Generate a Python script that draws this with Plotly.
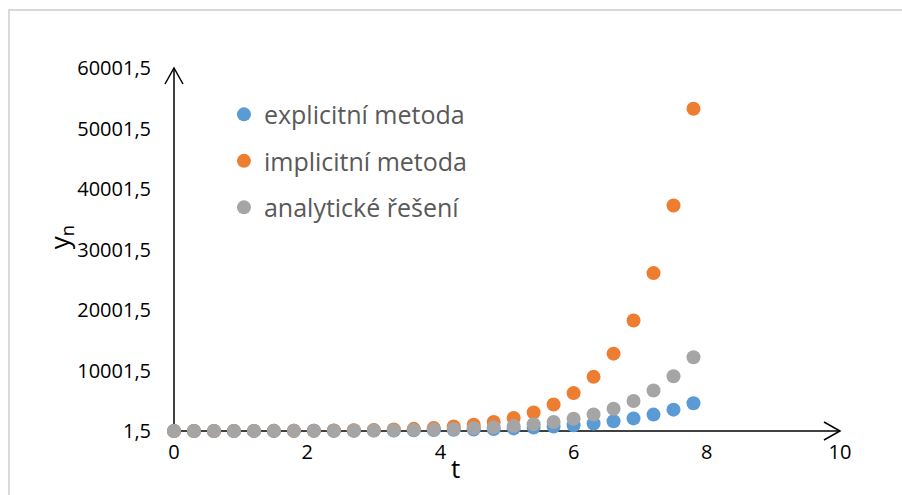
import plotly.graph_objects as go

# ---- data ----
t = [0, 0.3, 0.6, 0.9, 1.2, 1.5, 1.8, 2.1, 2.4, 2.7, 3.0, 3.3, 3.6, 3.9, 4.2,
     4.5, 4.8, 5.1, 5.4, 5.7, 6.0, 6.3, 6.6, 6.9, 7.2, 7.5, 7.8]
explicit = [5, 6.5, 8.45, 11.0, 14.3, 18.6, 24.1, 31.4, 40.8, 53.0, 68.9, 89.6,
            116.5, 151.4, 196.9, 255.9, 332.7, 432.5, 562.3, 731, 950, 1235,
            1606, 2088, 2714, 3528, 4587]
implicit = [5, 7.14, 10.2, 14.6, 20.8, 29.7, 42.5, 60.7, 86.7, 124, 177, 253,
            361, 516, 737, 1053, 1504, 2149, 3070, 4386, 6266, 8951, 12788,
            18268, 26097, 37281, 53259]
analytic = [5, 6.75, 9.11, 12.3, 16.6, 22.4, 30.2, 40.8, 55.1, 74.4, 100.4,
            135.6, 183, 247, 333, 450, 608, 820, 1107, 1494, 2017, 2723, 3675,
            4961, 6697, 9040, 12203]
series_names = ["explicitní metoda", "implicitní metoda", "analytické řešení"]
x_ticks = [0, 2, 4, 6, 8, 10]
y_ticks = [1.5, 10001.5, 20001.5, 30001.5, 40001.5, 50001.5, 60001.5]
y_tick_labels = ["1,5", "10001,5", "20001,5", "30001,5", "40001,5", "50001,5", "60001,5"]

colors = ["#5B9BD5", "#ED7D31", "#A5A5A5"]
FONT = "Open Sans"

fig = go.Figure()
for i, (name, ys) in enumerate(zip(series_names, [explicit, implicit, analytic])):
    fig.add_trace(go.Scatter(
        x=t, y=ys, mode="markers", name=name, legendgroup=name,
        marker=dict(color=colors[i], size=14, line=dict(width=0)),
        cliponaxis=False,
    ))

x_min, x_max = 0, 10
y_min, y_max = y_ticks[0], y_ticks[-1]

AX = dict(color="black", width=1.5)
shapes = [
    # axis lines (paper coords so they are not clipped at the plot edge)
    dict(type="line", xref="paper", yref="paper", x0=0, y0=0, x1=1, y1=0,
         line=AX, layer="below"),
    dict(type="line", xref="paper", yref="paper", x0=0, y0=0, x1=0, y1=1,
         line=AX, layer="below"),
    # open arrow heads
    dict(type="path", xref="paper", yref="paper", xsizemode="pixel", ysizemode="pixel",
         xanchor=1, yanchor=0, path="M-16,9 L0,0 L-16,-9", line=AX),
    dict(type="path", xref="paper", yref="paper", xsizemode="pixel", ysizemode="pixel",
         xanchor=0, yanchor=1, path="M-9,-16 L0,0 L9,-16", line=AX),
    # chart frame (light grey)
    dict(type="path", xref="paper", yref="paper",
         path="M -0.2477,-0.2 L -0.2477,1.1598 L 1.2,1.1598",
         line=dict(color="#D9D9D9", width=2)),
]

fig.update_layout(
    width=902, height=495,
    margin=dict(l=174, r=62, t=68, b=64),
    paper_bgcolor="white", plot_bgcolor="white",
    font=dict(family=FONT, color="black", size=20),
    showlegend=True,
    legend=dict(x=0.075, y=0.935, xanchor="left", yanchor="top",
                font=dict(family=FONT, size=25, color="#595959"),
                bgcolor="rgba(0,0,0,0)", tracegroupgap=11,
                itemsizing="trace"),
    xaxis=dict(range=[x_min, x_max], tickvals=x_ticks, showgrid=False,
               zeroline=False, showline=False, ticks="", ticklabelstandoff=7,
               tickfont=dict(family=FONT, size=20, color="black")),
    yaxis=dict(range=[y_min, y_max], tickvals=y_ticks, ticktext=y_tick_labels,
               showgrid=False, zeroline=False, showline=False, ticks="",
               ticklabelstandoff=22,
               tickfont=dict(family=FONT, size=20, color="black")),
    shapes=shapes,
    annotations=[
        dict(text="t", xref="paper", yref="paper", x=0.422, y=-0.102,
             xanchor="center", yanchor="middle", showarrow=False,
             font=dict(family=FONT, size=26, color="black")),
        dict(text="y<sub>n</sub>", xref="paper", yref="paper", x=-0.172, y=0.535,
             xanchor="center", yanchor="middle", showarrow=False, textangle=-90,
             font=dict(family=FONT, size=26, color="black")),
    ],
)

fig.write_html("out.html")
